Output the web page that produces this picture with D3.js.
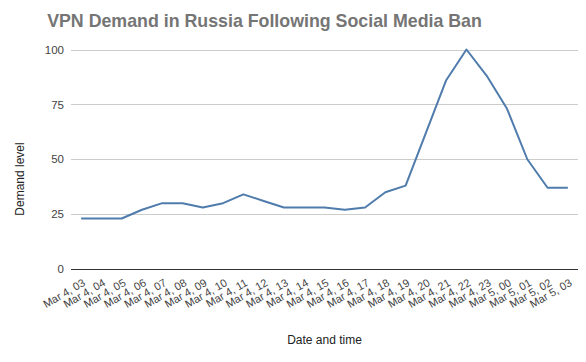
<!DOCTYPE html>
<html>
<head>
<meta charset="utf-8">
<script src="https://cdn.jsdelivr.net/npm/d3@7"></script>
<style>
  body { margin: 0; background: #fff; }
  svg { display: block; font-family: Arial, "Liberation Sans", sans-serif; }
</style>
</head>
<body>
<div id="chart"></div>
<script>
const categories = [
  'Mar 4, 03', 'Mar 4, 04', 'Mar 4, 05', 'Mar 4, 06', 'Mar 4, 07', 'Mar 4, 08',
  'Mar 4, 09', 'Mar 4, 10', 'Mar 4, 11', 'Mar 4, 12', 'Mar 4, 13', 'Mar 4, 14',
  'Mar 4, 15', 'Mar 4, 16', 'Mar 4, 17', 'Mar 4, 18', 'Mar 4, 19', 'Mar 4, 20',
  'Mar 4, 21', 'Mar 4, 22', 'Mar 4, 23', 'Mar 5, 00', 'Mar 5, 01', 'Mar 5, 02',
  'Mar 5, 03'
];
const demand = [23, 23, 23, 27, 30, 30, 28, 30, 34, 31, 28, 28, 28, 27, 28, 35, 38, 62, 86, 100, 88, 73, 50, 37, 37];
const yTicks = [0, 25, 50, 75, 100];

const width = 586, height = 362;
const margin = { top: 49.5, right: 8, bottom: 93, left: 71 };

const svg = d3.select('#chart')
  .append('svg')
  .attr('width', width)
  .attr('height', height);

const x = d3.scalePoint()
  .domain(categories)
  .range([margin.left, width - margin.right])
  .padding(0.5);

const y = d3.scaleLinear()
  .domain([0, 100])
  .range([height - margin.bottom, margin.top]);

// gridlines
svg.append('g')
  .selectAll('line')
  .data(yTicks.filter(d => d > 0))
  .enter()
  .append('line')
  .attr('x1', margin.left)
  .attr('x2', width - margin.right)
  .attr('y1', d => Math.round(y(d)) + 0.5)
  .attr('y2', d => Math.round(y(d)) + 0.5)
  .attr('stroke', '#cccccc')
  .attr('stroke-width', 1);

// y axis labels
const yAxis = svg.append('g')
  .attr('transform', `translate(${margin.left},0)`)
  .call(d3.axisLeft(y).tickValues(yTicks).tickSize(0).tickPadding(7));
yAxis.select('.domain').remove();
yAxis.selectAll('text')
  .attr('fill', '#444')
  .attr('font-size', '11.5px')
  .attr('font-family', 'Arial, "Liberation Sans", sans-serif');

// x axis
const xAxis = svg.append('g')
  .attr('transform', `translate(0,${Math.round(y(0)) + 0.5})`)
  .call(d3.axisBottom(x).tickSize(0).tickFormat(''));
xAxis.select('.domain')
  .attr('d', `M${margin.left},0H${width - margin.right}`)
  .attr('stroke', '#333')
  .attr('stroke-width', 1);

svg.append('g')
  .selectAll('text')
  .data(categories)
  .enter()
  .append('text')
  .attr('transform', d => `translate(${x(d) + 5},${y(0) + 16}) rotate(-30)`)
  .attr('text-anchor', 'end')
  .attr('fill', '#444')
  .attr('font-size', '11px')
  .text(d => d);

// line
const line = d3.line()
  .x((d, i) => x(categories[i]))
  .y(d => y(d));

svg.append('path')
  .datum(demand)
  .attr('fill', 'none')
  .attr('stroke', '#4f7cac')
  .attr('stroke-width', 2)
  .attr('stroke-linejoin', 'round')
  .attr('d', line);

// title
svg.append('text')
  .attr('x', 264.5)
  .attr('y', 27)
  .attr('text-anchor', 'middle')
  .attr('fill', '#757575')
  .attr('font-size', '17.8px')
  .attr('font-weight', 'bold')
  .text('VPN Demand in Russia Following Social Media Ban');

// axis titles
svg.append('text')
  .attr('x', (margin.left + width - margin.right) / 2)
  .attr('y', 344)
  .attr('text-anchor', 'middle')
  .attr('fill', '#222')
  .attr('font-size', '12px')
  .text('Date and time');

svg.append('text')
  .attr('transform', 'translate(24,179) rotate(-90)')
  .attr('text-anchor', 'middle')
  .attr('fill', '#222')
  .attr('font-size', '12px')
  .text('Demand level');
</script>
</body>
</html>
